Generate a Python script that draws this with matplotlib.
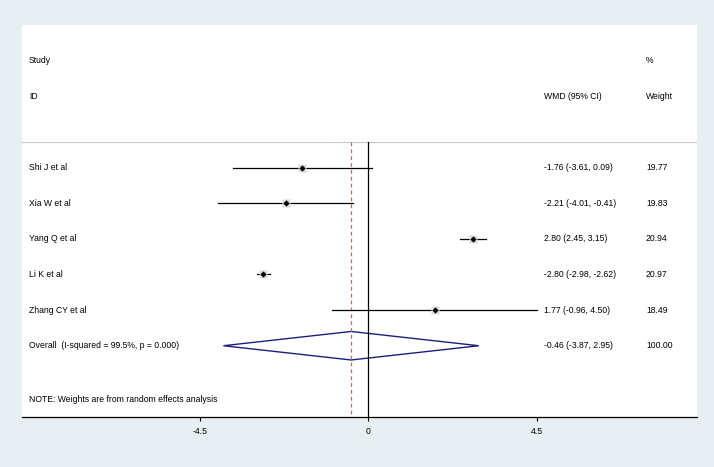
import matplotlib.pyplot as plt
from matplotlib.patches import Polygon

# forest plot data
studies = ["Shi J et al", "Xia W et al", "Yang Q et al", "Li K et al", "Zhang CY et al"]
wmd = [-1.76, -2.21, 2.80, -2.80, 1.77]
ci_low = [-3.61, -4.01, 2.45, -2.98, -0.96]
ci_high = [0.09, -0.41, 3.15, -2.62, 4.50]
weights = [19.77, 19.83, 20.94, 20.97, 18.49]

overall_label = "Overall  (I-squared = 99.5%, p = 0.000)"
overall = -0.46
overall_low = -3.87
overall_high = 2.95

xticks = [-4.5, 0, 4.5]

plt.rcParams['font.family'] = ['Liberation Sans', 'DejaVu Sans']

fig = plt.figure(figsize=(7.14, 4.67), dpi=100, facecolor='#e8eff2')
ax = fig.add_axes([22 / 714, 1 - 417 / 467, 675 / 714, 392 / 467])
ax.set_facecolor('white')

px = 37.44  # pixels per unit
x0 = 368.3
ax.set_xlim((22 - x0) / px, (697 - x0) / px)
ax.set_ylim(7.0, -4.0)

fs = 6.2
trans = ax.get_yaxis_transform()
c_lab = 7 / 675
c_wmd = (544 - 22) / 675
c_wt = (646 - 22) / 675

# headers
ax.text(c_lab, -3, "Study", transform=trans, fontsize=fs, va='center')
ax.text(c_lab, -2, "ID", transform=trans, fontsize=fs, va='center')
ax.text(c_wmd, -2, "WMD (95% CI)", transform=trans, fontsize=fs, va='center')
ax.text(c_wt, -3, "%", transform=trans, fontsize=fs, va='center')
ax.text(c_wt, -2, "Weight", transform=trans, fontsize=fs, va='center')

ax.axhline(-0.72, color='#c8c8c8', lw=0.8)
ax.plot([0, 0], [-0.72, 7.0], color='black', lw=0.9)
ax.plot([overall, overall], [-0.72, 7.0], color='#c8646e', lw=0.9, ls=(0, (3, 2.5)))

for i, name in enumerate(studies):
    ax.plot([ci_low[i], ci_high[i]], [i, i], color='black', lw=0.9)
    ax.plot(wmd[i], i, marker='s', ms=5.5, color='#dadada', mec='none')
    ax.plot(wmd[i], i, marker='D', ms=3.2, color='black', mec='none')
    ax.text(c_lab, i, name, transform=trans, fontsize=fs, va='center')
    ax.text(c_wmd, i, f"{wmd[i]:.2f} ({ci_low[i]:.2f}, {ci_high[i]:.2f})",
            transform=trans, fontsize=fs, va='center')
    ax.text(c_wt, i, f"{weights[i]:.2f}", transform=trans, fontsize=fs, va='center')

row = len(studies)
diamond = Polygon([[overall_low, row], [overall, row - 0.4], [overall_high, row],
                   [overall, row + 0.4]], closed=True, fill=False,
                  edgecolor='#1c1f7a', lw=1.0)
ax.add_patch(diamond)
ax.text(c_lab, row, overall_label, transform=trans, fontsize=fs, va='center')
ax.text(c_wmd, row, f"{overall:.2f} ({overall_low:.2f}, {overall_high:.2f})",
        transform=trans, fontsize=fs, va='center')
ax.text(c_wt, row, "100.00", transform=trans, fontsize=fs, va='center')

ax.text(c_lab, 6.52, "NOTE: Weights are from random effects analysis",
        transform=trans, fontsize=fs, va='center')

for s in ['top', 'left', 'right']:
    ax.spines[s].set_visible(False)
ax.spines['bottom'].set_linewidth(0.9)
ax.set_yticks([])
ax.set_xticks(xticks)
ax.set_xticklabels(["-4.5", "0", "4.5"])
ax.tick_params(axis='x', direction='out', length=3, width=0.8, labelsize=fs, pad=4)

fig.savefig("out.png", dpi=100, facecolor=fig.get_facecolor())
